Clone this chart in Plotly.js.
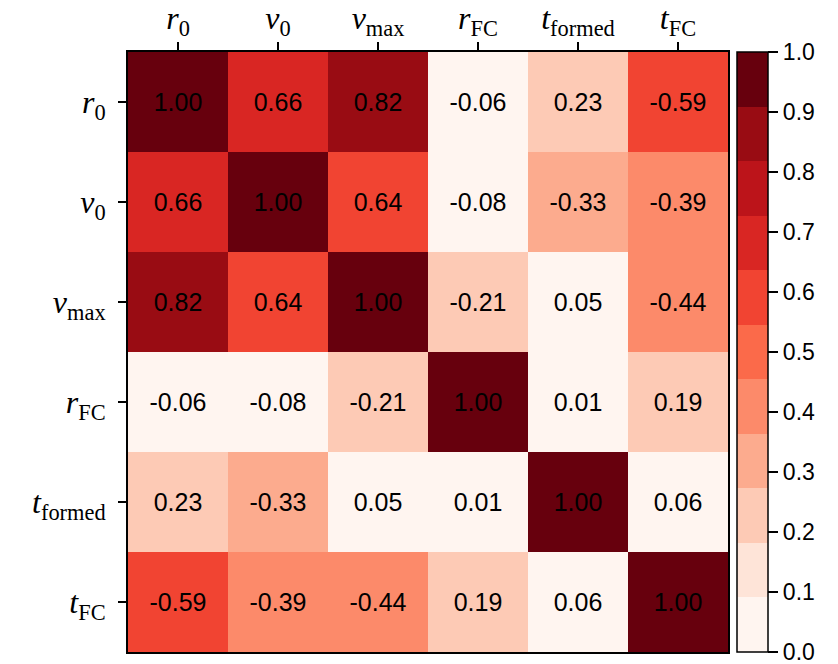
<!DOCTYPE html>
<html>
<head>
<meta charset="utf-8">
<script src="https://cdn.plot.ly/plotly-3.0.1.min.js"></script>
<style>html,body{margin:0;padding:0;background:#fff;}</style>
</head>
<body>
<div id="chart" style="width:838px;height:664px;"></div>
<script>
// Variable names and their math-style tick labels
const categories = ["r0", "v0", "vmax", "rFC", "tformed", "tFC"];
const tickLabels = [
  "<i>r</i><sub>0</sub>",
  "<i>v</i><sub>0</sub>",
  "<i>v</i><sub>max</sub>",
  "<i>r</i><sub>FC</sub>",
  "<i>t</i><sub>formed</sub>",
  "<i>t</i><sub>FC</sub>"
];

// Correlation matrix rows (row order = categories, top to bottom)
const row_r0      = [1.00, 0.66, 0.82, -0.06, 0.23, -0.59];
const row_v0      = [0.66, 1.00, 0.636, -0.08, -0.33, -0.39];
const row_vmax    = [0.82, 0.636, 1.00, -0.21, 0.05, -0.44];
const row_rFC     = [-0.06, -0.08, -0.21, 1.00, 0.01, 0.19];
const row_tformed = [0.23, -0.33, 0.05, 0.01, 1.00, 0.06];
const row_tFC     = [-0.59, -0.39, -0.44, 0.19, 0.06, 1.00];
const corr = [row_r0, row_v0, row_vmax, row_rFC, row_tformed, row_tFC];

// Colorbar ticks
const cbTicks = [0.0, 0.1, 0.2, 0.3, 0.4, 0.5, 0.6, 0.7, 0.8, 0.9, 1.0];

// 11-level discrete "Reds" colormap
const redsLevels = [
  "rgb(255,245,240)", "rgb(254,228,216)", "rgb(253,202,181)", "rgb(252,171,142)",
  "rgb(252,138,106)", "rgb(251,106,74)", "rgb(241,68,50)", "rgb(217,38,35)",
  "rgb(188,20,26)", "rgb(153,12,19)", "rgb(103,0,13)"
];
const n = redsLevels.length;
const colorscale = [];
redsLevels.forEach((c, i) => {
  colorscale.push([i / n, c]);
  colorscale.push([(i + 1) / n, c]);
});

const idx = categories.map((_, i) => i);
const z = corr.map(r => r.map(v => Math.abs(v)));
const text = corr.map(r => r.map(v => v.toFixed(2)));

const trace = {
  type: "heatmap",
  x: idx,
  y: idx,
  z: z,
  zmin: 0,
  zmax: 1,
  colorscale: colorscale,
  text: text,
  texttemplate: "%{text}",
  textfont: {family: "Liberation Sans, Arial, sans-serif", size: 25, color: "#000"},
  hoverinfo: "skip",
  colorbar: {
    thickness: 31,
    len: 1,
    lenmode: "fraction",
    y: 0.5,
    yanchor: "middle",
    ypad: 0,
    x: 1.015,
    xanchor: "left",
    xpad: 0,
    outlinewidth: 1.5,
    outlinecolor: "#000",
    tickmode: "array",
    tickvals: cbTicks,
    ticktext: cbTicks.map(v => v.toFixed(1)),
    ticks: "outside",
    ticklen: 10,
    tickwidth: 1.5,
    tickcolor: "#000",
    ticklabeloverflow: "allow",
    tickfont: {family: "Liberation Sans, Arial, sans-serif", size: 23, color: "#000"}
  }
};

const axisFont = {family: "Liberation Serif, Times New Roman, serif", size: 32, color: "#000"};

const layout = {
  width: 838,
  height: 664,
  margin: {l: 128, r: 110, t: 52, b: 12},
  paper_bgcolor: "#fff",
  plot_bgcolor: "#fff",
  xaxis: {
    side: "top",
    range: [-0.5, 5.5],
    tickmode: "array",
    tickvals: idx,
    ticktext: tickLabels,
    tickfont: axisFont,
    ticks: "outside",
    ticklen: 8,
    tickwidth: 2,
    tickcolor: "#000",
    ticklabelstandoff: 0,
    showline: true,
    linecolor: "#000",
    linewidth: 2,
    mirror: true,
    showgrid: false,
    zeroline: false
  },
  yaxis: {
    range: [5.5, -0.5],
    tickmode: "array",
    tickvals: idx,
    ticktext: tickLabels,
    tickfont: axisFont,
    ticks: "outside",
    ticklen: 8,
    tickwidth: 2,
    tickcolor: "#000",
    ticklabelstandoff: 6,
    showline: true,
    linecolor: "#000",
    linewidth: 2,
    mirror: true,
    showgrid: false,
    zeroline: false
  }
};

Plotly.newPlot("chart", [trace], layout, {displayModeBar: false, staticPlot: true});
</script>
</body>
</html>
